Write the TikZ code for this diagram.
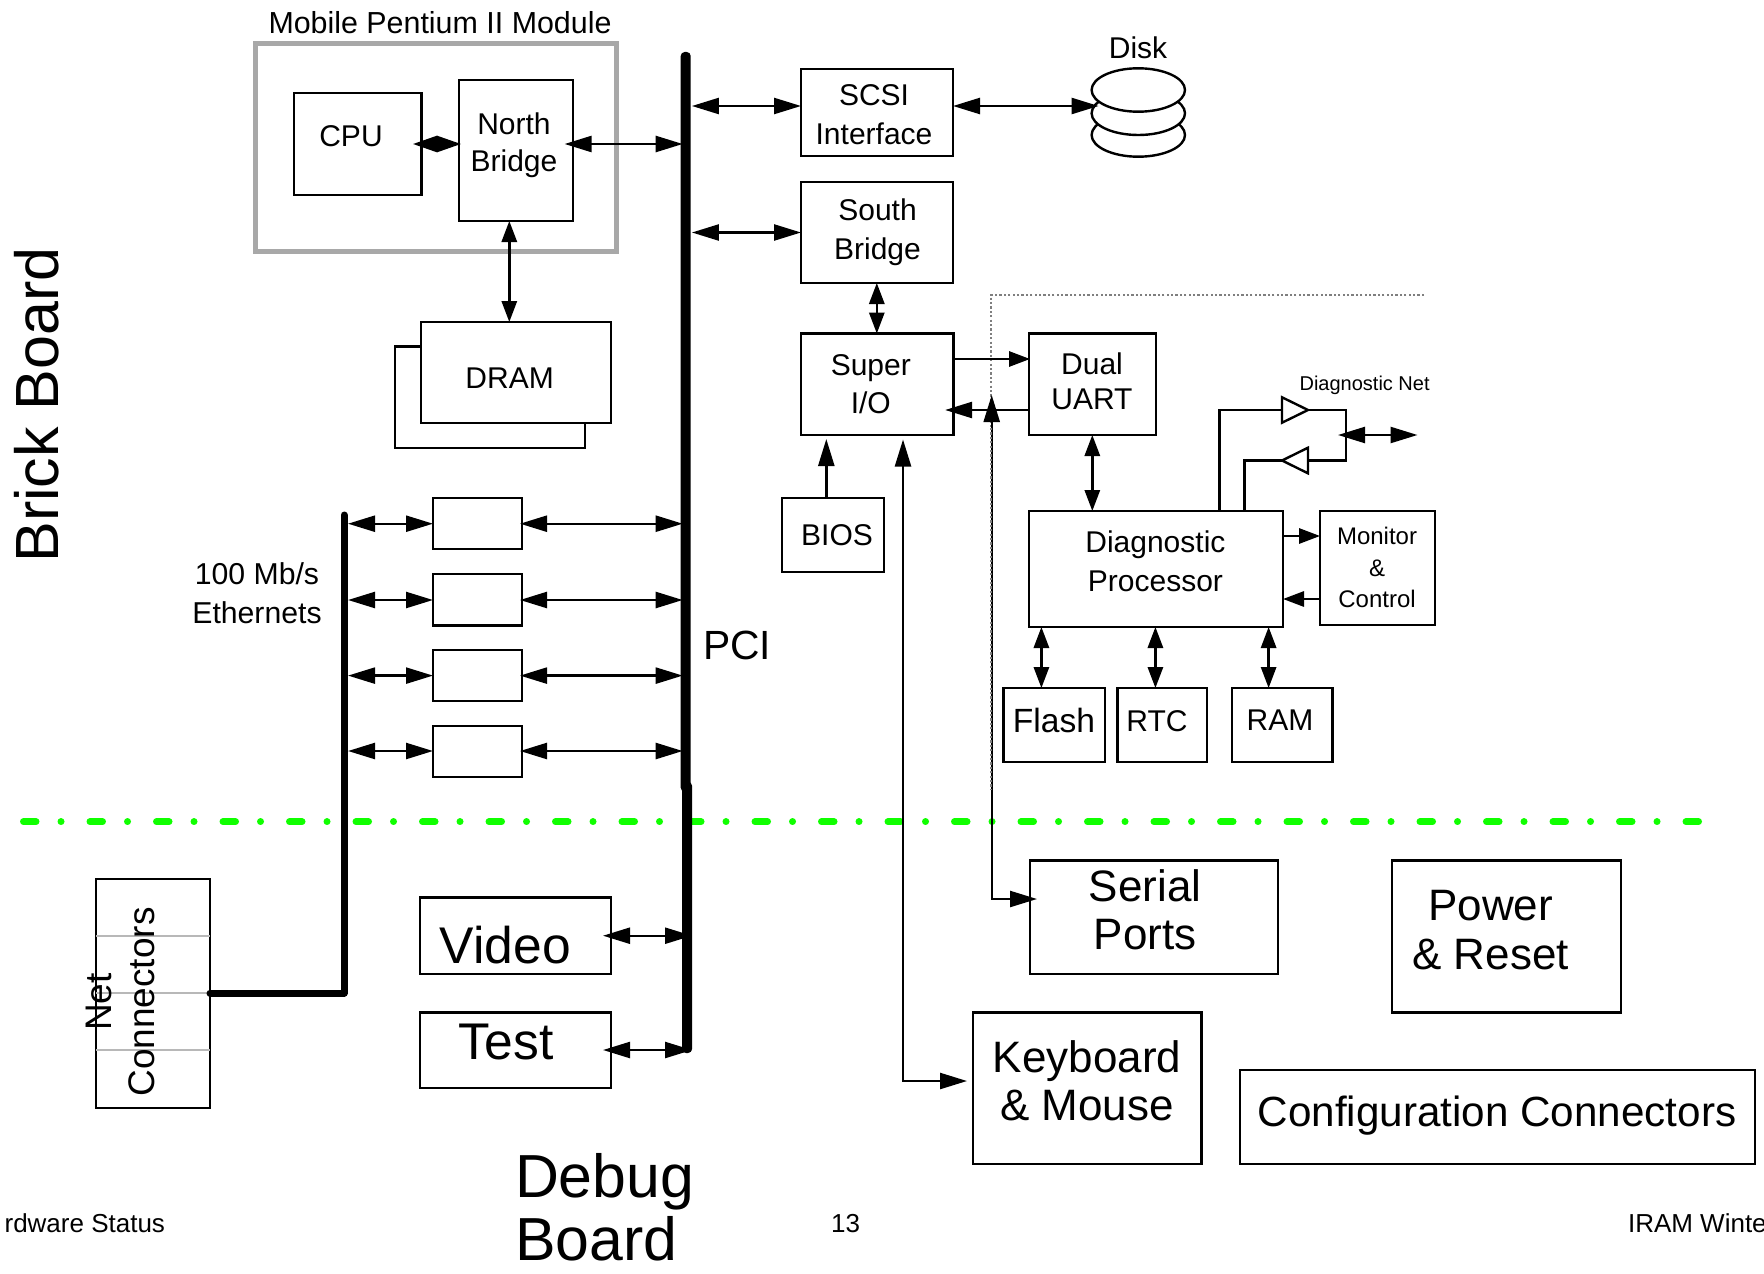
\documentclass[tikz,border=0pt]{standalone}
\usepackage{fontspec}
\setmainfont{Liberation Sans}
\usetikzlibrary{arrows.meta,fit,shapes.geometric}
\newcommand{\fs}[2]{\fontsize{#1pt}{#2pt}\selectfont}
\definecolor{modgray}{HTML}{A8A8A8}
\definecolor{graylinecol}{HTML}{B8B8B8}
\definecolor{dotgray}{HTML}{7F7F7F}
\definecolor{sepgreen}{HTML}{10FF00}
\tikzset{
  hd/.tip={Triangle[length=13.5pt,width=8pt]},
  hs/.tip={Triangle[length=10.5pt,width=7.6pt]},
  hc/.tip={Triangle[length=12pt,width=8pt]},
  ln/.style={line width=1.2pt,draw=black},
  boxs/.style={draw=black,line width=1.2pt,fill=white,rectangle,inner sep=0pt,outer sep=0pt},
  barx/.style={draw=none,fill=black,rectangle,rounded corners=2pt,inner sep=0pt,outer sep=0pt},
  txt/.style={inner sep=0pt,outer sep=0pt,align=center,text=black},
  sepline/.style={draw=graylinecol,line width=1pt},
  dotline/.style={draw=dotgray,line width=1pt,dash pattern=on 1.1pt off 1.1pt},
  platter/.style={draw=black,line width=1.2pt,fill=white,ellipse,inner sep=0pt,outer sep=0pt,minimum width=46.7pt,minimum height=21.7pt},
}
\newcommand{\bx}[6][boxs]{%
  \path (#3,#4) coordinate (#2-a) (#5,#6) coordinate (#2-b);
  \node[#1,fit=(#2-a)(#2-b)] (#2) {};}
\begin{document}
\begin{tikzpicture}[x=0.5pt,y=-0.5pt]
\useasboundingbox (0,0) rectangle (1764,1273);

% board separator
\coordinate (gl) at (23.5,821.7);
\coordinate (gr) at (1704,821.7);
\draw[sepgreen,line width=3.5pt,line cap=round,dash pattern=on 6.25pt off 12.5pt on 0.01pt off 14.49pt] (gl) -- (gr);

% Module
\bx[draw=modgray,line width=2.5pt,rectangle,inner sep=0pt,outer sep=0pt]{module}{255.5}{43.5}{616}{251}
\node[txt,font=\fs{15.2}{19}] (tmod) at (440,22.5) {Mobile Pentium II Module};

% boxes
\bx{cpu}{294}{93}{421.6}{195}
\bx{nb}{459}{80}{573}{221}
\bx{dramb}{395}{346.5}{585}{448}
\bx{dram}{421}{322}{611}{423}
\bx{scsi}{801}{69}{953}{156}
\bx{south}{801}{182}{953}{283}
\bx{super}{801}{333.5}{953.5}{435}
\bx{uart}{1029}{333.5}{1156}{435}
\bx{diag}{1029}{511}{1283}{627}
\bx{mon}{1320}{511}{1435}{625}
\bx{bios}{782}{498}{884}{572}
\bx{flash}{1003.5}{688}{1105}{762}
\bx{rtc}{1117.5}{688}{1207}{762}
\bx{ram}{1232}{688}{1332.6}{762}
\bx{eA}{433}{498}{522}{549}
\bx{eB}{433}{574}{522}{625.5}
\bx{eC}{433}{650}{522}{701}
\bx{eD}{433}{726}{522}{777}
\bx{netc}{96}{879}{210}{1108}
\bx{video}{420}{897.5}{611}{974}
\bx{test}{420}{1012.5}{611}{1088}
\bx{serial}{1030}{860.6}{1278}{974}
\bx{power}{1392}{860.6}{1621}{1012.5}
\bx{keyb}{973}{1012.5}{1201.5}{1164}
\bx{config}{1240}{1070}{1755}{1164}

% Disk
\node[platter] (d3) at (1138.3,135) {};
\node[platter] (d2) at (1138.3,113.3) {};
\node[platter] (d1) at (1138.3,90) {};

% net connector separators
\draw[sepline] (netc.west |- 0,935.7) -- (netc.east |- 0,935.7);
\draw[sepline] (netc.west |- 0,992.7) -- (netc.east |- 0,992.7);
\draw[sepline] (netc.west |- 0,1050) -- (netc.east |- 0,1050);

% buses
\bx[barx]{pci}{680.7}{52}{690.7}{791.7}
\bx[barx]{pcib}{682}{781.7}{692}{1053}
\coordinate (ebt) at (344,515);
\coordinate (ebc) at (344,993);
\draw[line width=3.5pt,line cap=round,line join=round] (netc.east |- ebc) -- (ebc) -- (ebt);

% dotted boundary, upper part
\coordinate (dtr) at (1424,295.3);
\coordinate (dtc) at (990.7,295.3);
\coordinate (dtm) at (990.7,428);
\coordinate (dtb) at (990.7,790);
\draw[dotline] (dtr) -- (dtc) -- (dtm);

% connectors: module
\draw[ln,hc-hc,shorten <=-4.3pt,shorten >=-1pt] (cpu.east |- 0,144) -- (nb.west |- 0,144);
\draw[ln,hd-hd,shorten <=-4.2pt,shorten >=-1pt] (nb.east |- 0,144) -- (pci.west |- 0,144);
\draw[ln,hs-hs] (509.3,0 |- nb.south) -- (509.3,0 |- dram.north);
% pci to devices
\draw[ln,hd-hd,shorten <=0.6pt] (pci.east |- 0,106) -- (scsi.west |- 0,106);
\draw[ln,hd-hd,shorten <=0.6pt] (pci.east |- 0,232.5) -- (south.west |- 0,232.5);
\draw[ln,hd-hd,shorten >=-3.5pt] (scsi.east |- 0,106) -- (d1.west |- 0,106);
\draw[ln,hs-hs] (876.8,0 |- south.south) -- (876.8,0 |- super.north);
\draw[ln,-hs,shorten >=-0.5pt] (super.east |- 0,359) -- (uart.west |- 0,359);
\draw[ln,-hd,shorten >=-4.2pt] (uart.west |- 0,410) -- (super.east |- 0,410);
\draw[ln,hs-hs] (1092.3,0 |- uart.south) -- (1092.3,0 |- diag.north);
\coordinate (biostip) at (826.3,439);
\draw[ln,-hd] (bios.north -| biostip) -- (biostip);
% diag net
\coordinate (tAa) at (1282,397.3);
\coordinate (tAb) at (1282,422.7);
\coordinate (tAc) at (1308,410);
\coordinate (tBa) at (1308,447.7);
\coordinate (tBb) at (1308,473.3);
\coordinate (tBc) at (1282,460.5);
\draw[ln] (tAa) -- (tAc) -- (tAb) -- cycle;
\draw[ln] (tBa) -- (tBc) -- (tBb) -- cycle;
\draw[ln] (1219.4,0 |- diag.north) -- (1219.4,410) -- (1282,410);
\draw[ln] (1244.6,0 |- diag.north) -- (1244.6,460.5) -- (tBc);
\draw[ln] (tAc) -- (1346,410) -- (1346,460.5) -- (1308,460.5);
\coordinate (dnl) at (1338,435);
\coordinate (dnr) at (1417.5,435);
\draw[ln,hd-hd] (dnl) -- (dnr);
% monitor
\draw[ln,-hs] (diag.east |- 0,536) -- (mon.west |- 0,536);
\draw[ln,-hs] (mon.west |- 0,599) -- (diag.east |- 0,599);
% memory
\draw[ln,hs-hs] (1041.4,0 |- diag.south) -- (1041.4,0 |- flash.north);
\draw[ln,hs-hs] (1155.4,0 |- diag.south) -- (1155.4,0 |- rtc.north);
\draw[ln,hs-hs] (1268.6,0 |- diag.south) -- (1268.6,0 |- ram.north);
% serial / keyboard
\coordinate (sertip) at (991.7,395);
\coordinate (kbtip) at (903,439.5);
\draw[ln,hd-hd,shorten >=-3.5pt] (sertip) -- (991.7,899) -- (serial.west |- 0,899);
\draw[ln,hd-hd,shorten >=3pt] (kbtip) -- (903,1081) -- (keyb.west |- 0,1081);
% ethernet
\foreach \nm/\yy in {eA/523.7,eB/600,eC/675.6,eD/751}{
  \draw[ln,hd-hd,shorten <=2pt] (ebt |- 0,\yy) -- (\nm.west |- 0,\yy);
  \draw[ln,hd-hd,shorten <=-1pt,shorten >=-1pt] (\nm.east |- 0,\yy) -- (pci.west |- 0,\yy);
}
% debug board
\draw[ln,hd-hd,shorten <=-4pt] (video.east |- 0,935.7) -- (pcib.east |- 0,935.7);
\draw[ln,hd-hd,shorten <=-4pt] (test.east |- 0,1050) -- (pcib.east |- 0,1050);

% dotted boundary, lower part over the serial line
\draw[dotline] (dtm) -- (dtb);

% text
\node[txt,font=\fs{15}{19}] (tcpu) at (351,136.5) {CPU};
\node[txt,font=\fs{15}{18.5}] (tnb) at (514,145) {North\\Bridge};
\node[txt,font=\fs{15}{19.5}] (tdram) at (509.6,378) {DRAM};
\node[txt,font=\fs{15}{19.5}] (tscsi) at (874,115) {SCSI\\Interface};
\node[txt,font=\fs{15}{19.7}] (tsouth) at (877.5,232.5) {South\\Bridge};
\node[txt,font=\fs{15}{19}] (tsuper) at (870.8,384) {Super\\I/O};
\node[txt,font=\fs{15}{17.5}] (tuart) at (1092,381.5) {Dual\\UART};
\node[txt,font=\fs{15}{19}] (tbios) at (837,535.5) {BIOS};
\node[txt,font=\fs{15}{19.5}] (tdiag) at (1155.4,561) {Diagnostic\\Processor};
\node[txt,font=\fs{12}{15.75}] (tmon) at (1377,567.5) {Monitor\\\&\\Control};
\node[txt,font=\fs{16.8}{19}] (tflash) at (1054,720) {Flash};
\node[txt,font=\fs{15}{19}] (trtc) at (1157,721) {RTC};
\node[txt,font=\fs{15}{19}] (tram) at (1280,720) {RAM};
\node[txt,font=\fs{10}{12}] (tdn) at (1364.6,385.6) {Diagnostic Net};
\node[txt,font=\fs{20.4}{24}] (tpci) at (737,645) {PCI};
\node[txt,font=\fs{15.1}{19.5}] (teth) at (257,593) {100 Mb/s\\Ethernets};
\node[txt,font=\fs{15}{19}] (tdisk) at (1138,48) {Disk};
\node[txt,font=\fs{22}{24.2}] (tserial) at (1145,910) {Serial\\Ports};
\node[txt,font=\fs{22}{24.2}] (tpower) at (1490.6,930) {Power\\\& Reset};
\node[txt,font=\fs{22}{24.2}] (tkeyb) at (1087,1080.5) {Keyboard\\\& Mouse};
\node[txt,font=\fs{21.1}{24}] (tconfig) at (1497,1116) {Configuration Connectors};
\node[txt,font=\fs{25.8}{30}] (tvideo) at (505.5,945) {Video};
\node[txt,font=\fs{25.8}{30}] (ttest) at (506,1042) {Test};
\node[txt,font=\fs{30.4}{31.7},align=left,anchor=north west] (tdebug) at (515,1153.4) {Debug\\Board};
\node[txt,font=\fs{18.5}{21.25},rotate=90] (tnet) at (120.5,1002) {Net\\Connectors};
\node[txt,font=\fs{30.5}{36},rotate=90] (tbrick) at (37,405) {Brick Board};
\node[txt,font=\fs{13}{16},anchor=base east] (tfl) at (165,1232.7) {rdware Status};
\node[txt,font=\fs{13}{16},anchor=base] (tfc) at (845.5,1232.7) {13};
\node[txt,font=\fs{13}{16},anchor=base west] (tfr) at (1628,1232.7) {IRAM Winte};
\end{tikzpicture}
\end{document}
